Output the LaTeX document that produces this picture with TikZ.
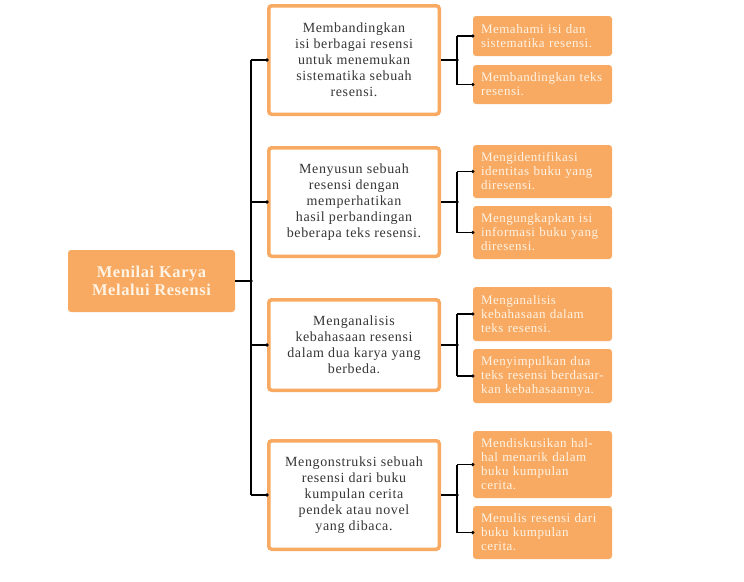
\documentclass[tikz,border=0pt]{standalone}
\usepackage{fontspec}
\setmainfont{Liberation Serif}
\newfontfamily\midf[LetterSpace=4.5]{Liberation Serif}
\newfontfamily\leaff[LetterSpace=4]{Liberation Serif}
\newfontfamily\mainf[LetterSpace=3.5]{Liberation Serif}
\definecolor{orn}{HTML}{F8AA63}
\definecolor{cream}{HTML}{FFF3E4}
\definecolor{midtext}{HTML}{363636}
\tikzset{
  mainbox/.style={fill=orn, rounded corners=3, inner sep=0pt, minimum width=167, minimum height=62,
    text=cream, font=\mainf\bfseries\fontsize{16.5}{17.3}\selectfont, align=center},
  midbox/.style={draw=orn, line width=3.5pt, fill=white, rounded corners=3, inner sep=0pt,
    minimum width=170.5, text=midtext, font=\midf\fontsize{14}{16}\selectfont, align=center},
  leafbox/.style={fill=orn, rounded corners=3, inner xsep=8pt, inner ysep=0pt, minimum width=139,
    text width=123, text=cream, font=\leaff\fontsize{13}{14}\selectfont, align=left},
  conn/.style={draw=black, line width=1.2pt},
  dot/.style={fill=black}
}
\begin{document}
\begin{tikzpicture}[x=1pt,y=-1pt]
\useasboundingbox (0,0) rectangle (744,581);

\node[mainbox] (main) at (151.5,281) {Menilai Karya\\Melalui Resensi};

\node[midbox, minimum height=108.5] (b1) at (354,60) {Membandingkan\\isi berbagai resensi\\untuk menemukan\\sistematika sebuah\\resensi.};
\node[midbox, minimum height=108.5] (b2) at (354,202) {Menyusun sebuah\\resensi dengan\\memperhatikan\\hasil perbandingan\\beberapa teks resensi.};
\node[midbox, minimum height=90.5] (b3) at (354,345) {Menganalisis\\kebahasaan resensi\\dalam dua karya yang\\berbeda.};
\node[midbox, minimum height=108.5] (b4) at (354,495) {Mengonstruksi sebuah\\resensi dari buku\\kumpulan cerita\\pendek atau novel\\yang dibaca.};

\node[leafbox, minimum height=40] (l1) at (542.5,36) {Memahami isi dan\\sistematika resensi.};
\node[leafbox, minimum height=39] (l2) at (542.5,84.5) {Membandingkan teks\\resensi.};
\node[leafbox, minimum height=53] (l3) at (542.5,171.5) {Mengidentifikasi\\identitas buku yang\\diresensi.};
\node[leafbox, minimum height=53] (l4) at (542.5,232.5) {Mengungkapkan isi\\informasi buku yang\\diresensi.};
\node[leafbox, minimum height=54] (l5) at (542.5,314) {Menganalisis\\kebahasaan dalam\\teks resensi.};
\node[leafbox, minimum height=54] (l6) at (542.5,376) {Menyimpulkan dua\\teks resensi berdasar-\\kan kebahasaannya.};
\node[leafbox, minimum height=67] (l7) at (542.5,464.5) {Mendiskusikan hal-\\hal menarik dalam\\buku kumpulan\\cerita.};
\node[leafbox, minimum height=53] (l8) at (542.5,532.5) {Menulis resensi dari\\buku kumpulan\\cerita.};

% trunk
\coordinate (t) at (251,281);
\draw[conn] (main.east) -- (t);
\draw[conn] (b1.west -| t) -- (b4.west -| t);
\foreach \b in {b1,b2,b3,b4}{
  \draw[conn] (\b.west -| t) -- (\b.west);
  \fill[dot] (\b.west) circle (1.8);
}
\fill[dot] (t) circle (1.8);

% branches
\foreach \b/\u/\d in {b1/l1/l2, b2/l3/l4, b3/l5/l6, b4/l7/l8}{
  \coordinate (r\b) at ([xshift=16pt]\b.east);
  \draw[conn] (\b.east) -- (r\b);
  \draw[conn] (\u.west -| r\b) -- (\d.west -| r\b);
  \draw[conn] (\u.west -| r\b) -- (\u.west);
  \draw[conn] (\d.west -| r\b) -- (\d.west);
  \fill[dot] (r\b) circle (1.8);
  \fill[dot] (\u.west) circle (1.8);
  \fill[dot] (\d.west) circle (1.8);
}
\end{tikzpicture}
\end{document}
